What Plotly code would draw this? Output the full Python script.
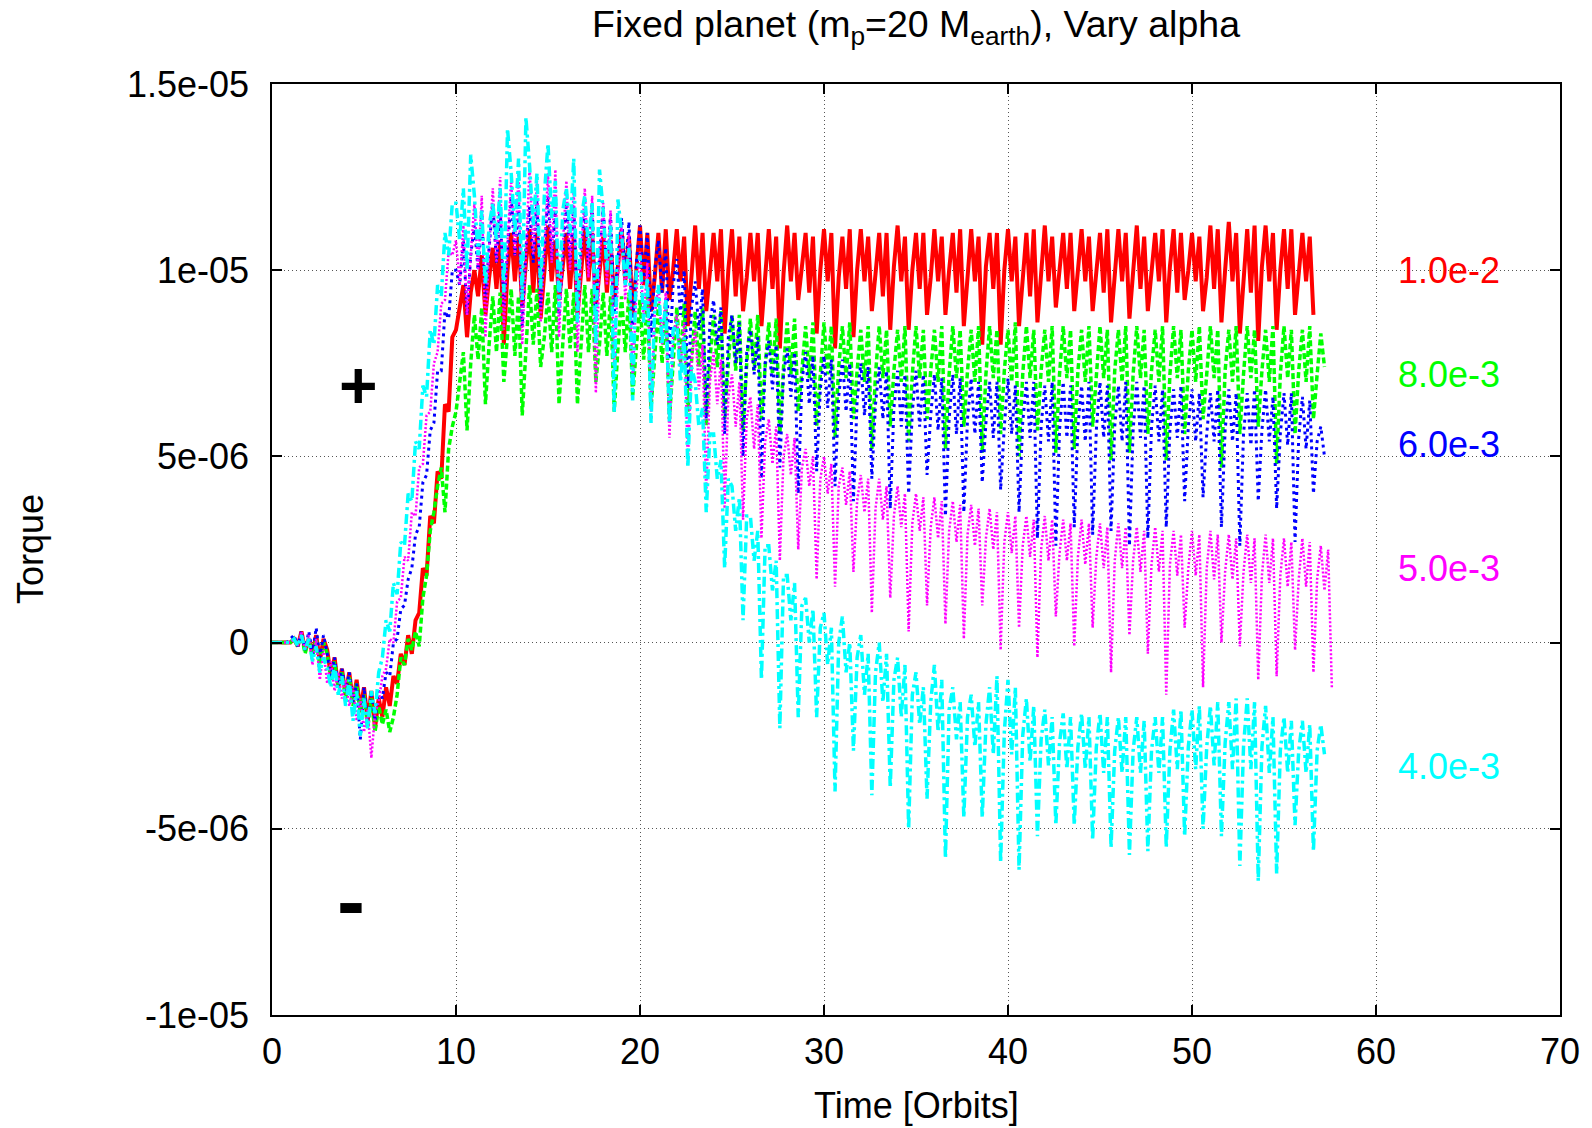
import numpy as np
import plotly.graph_objects as go

# ---------------- data (torque in units of 1e-7, sampled every 0.2 orbit from t=0) ----------------
TIME_STEP = 0.2
UNIT = 1e-7

labels = ["1.0e-2", "8.0e-3", "6.0e-3", "5.0e-3", "4.0e-3"]
colors = ["#ff0000", "#00ff00", "#0000ff", "#ff00ff", "#00ffff"]
label_y = [10.0e-6, 7.2e-6, 5.31e-6, 2.0e-6, -3.32e-6]

alpha_1e2 = [
    0, 0, 0, 0, 0, 0, 1, -1, 3, -2, 1, -3, 2, -5, 1, -2, -9, -4, -12, -7,
    -14, -8, -16, -10, -18, -12, -21, -13, -23, -15, -20, -12, -17, -9, -11,
    -3, -6, 2, -3, 6, 8, 20, 18, 34, 32, 46, 44, 64, 62, 82,
    84, 90, 96, 82, 94,
    100, 93, 104, 88, 98,
    106, 95, 108, 80, 100,
    110, 97, 109, 90, 102,
    111, 94, 110, 87, 100,
    112, 97, 108, 92, 101,
    110, 95, 109, 88, 100,
    111, 97, 110, 90, 99,
    109, 94, 108, 91, 100,
    111, 97, 109, 88, 101,
    112, 96, 110, 89, 98,
    110, 94, 111, 92, 100,
    111, 97, 109, 85, 99,
    112, 95, 110, 89, 101,
    110, 97, 111, 83, 100,
    111, 93, 109, 89, 98,
    110, 97, 110, 85, 100,
    111, 95, 109, 79, 99,
    112, 97, 110, 92, 101,
    110, 94, 109, 83, 100,
    111, 97, 110, 79, 98,
    109, 95, 111, 82, 100,
    111, 97, 109, 89, 99,
    110, 93, 110, 84, 101,
    112, 97, 109, 84, 100,
    110, 95, 110, 88, 98,
    111, 97, 109, 88, 100,
    110, 94, 111, 85, 99,
    111, 97, 109, 80, 101,
    110, 95, 110, 80, 100,
    111, 97, 109, 85, 98,
    110, 93, 111, 86, 100,
    112, 97, 109, 90, 99,
    110, 95, 110, 89, 101,
    111, 97, 109, 89, 100,
    110, 94, 111, 86, 98,
    111, 97, 110, 87, 100,
    112, 95, 109, 89, 99,
    110, 97, 111, 86, 101,
    111, 94, 110, 92, 100,
    110, 97, 109, 89, 98,
    112, 95, 111, 86, 100,
    113, 97, 110, 83, 99,
    111, 94, 112, 81, 101,
    112, 97, 110, 84, 100,
    111, 95, 111, 88, 99,
    110, 97, 109, 88,
]

alpha_8e3 = [
    0, 0, 0, 0, 0, 0, 1, -1, 2, -3, 1, -4, 1, -6, 0, -3, -10, -5, -12, -8,
    -15, -9, -17, -11, -19, -14, -23, -15, -24, -17, -22, -18, -24, -20, -14,
    -4, -6, 1, -2, 3, -1, 12, 18, 30, 35, 42, 47, 35, 52, 58,
    62, 70, 78, 57, 75,
    88, 76, 90, 64, 80,
    93, 78, 94, 70, 82,
    95, 77, 93, 61, 80,
    96, 80, 95, 74, 82,
    94, 78, 96, 64, 80,
    95, 79, 94, 64, 81,
    96, 78, 95, 70, 80,
    94, 77, 93, 62, 79,
    93, 78, 94, 66, 80,
    92, 76, 93, 63, 78,
    91, 75, 92, 60, 77,
    90, 75, 91, 62, 76,
    89, 74, 90, 58, 76,
    88, 74, 89, 60, 75,
    88, 73, 88, 57, 75,
    87, 73, 88, 60, 74,
    86, 72, 87, 56, 74,
    86, 72, 87, 62, 73,
    85, 71, 86, 58, 73,
    86, 72, 85, 55, 74,
    85, 71, 86, 60, 73,
    84, 70, 85, 52, 72,
    85, 71, 84, 58, 73,
    84, 70, 85, 54, 72,
    85, 71, 84, 60, 73,
    84, 70, 85, 52, 72,
    85, 71, 84, 58, 73,
    84, 70, 85, 51, 72,
    85, 71, 84, 56, 73,
    84, 70, 86, 50, 72,
    85, 71, 84, 57, 73,
    84, 70, 85, 51, 72,
    85, 71, 84, 52, 73,
    84, 70, 85, 58, 72,
    85, 71, 84, 49, 73,
    84, 70, 85, 51, 72,
    85, 71, 84, 56, 73,
    84, 70, 85, 49, 72,
    85, 71, 84, 56, 73,
    84, 70, 85, 60, 72,
    85, 71, 84, 47, 73,
    84, 70, 85, 56, 72,
    85, 71, 84, 58, 73,
    84, 70, 85, 48, 72,
    85, 71, 84, 56, 73,
    84, 70, 85, 60, 72,
    83, 74,
]

alpha_6e3 = [
    0, 0, 0, 0, 0, 1, 2, -1, 3, -2, 3, -3, 4, -4, 2, -3, -9, -4, -12, -7,
    -13, -8, -16, -11, -26, -12, -22, -14, -21, -13, -15, -8, -9, 0, 1,
    9, 10, 17, 20, 29, 31, 43, 45, 57, 59, 73, 73, 89, 87, 100,
    100, 96, 108, 88, 104,
    112, 100, 116, 92, 106,
    118, 102, 117, 90, 104,
    120, 104, 118, 85, 106,
    117, 102, 119, 90, 105,
    120, 103, 116, 88, 104,
    118, 102, 117, 90, 106,
    116, 101, 118, 87, 104,
    117, 100, 115, 88, 103,
    114, 99, 113, 85, 102,
    112, 97, 110, 82, 100,
    108, 94, 106, 76, 96,
    103, 88, 100, 68, 90,
    97, 84, 95, 60, 86,
    92, 80, 90, 56, 82,
    88, 75, 86, 50, 78,
    84, 72, 82, 44, 75,
    81, 68, 80, 47, 72,
    79, 66, 78, 40, 70,
    78, 64, 77, 46, 68,
    77, 63, 76, 42, 66,
    76, 62, 75, 38, 65,
    75, 61, 74, 44, 64,
    74, 60, 73, 36, 63,
    73, 58, 72, 40, 62,
    73, 58, 72, 45, 61,
    72, 57, 71, 34, 60,
    72, 56, 71, 35, 60,
    71, 56, 70, 43, 59,
    70, 55, 70, 41, 58,
    71, 56, 69, 35, 59,
    70, 55, 70, 28, 58,
    69, 54, 70, 26, 57,
    70, 55, 69, 31, 58,
    69, 54, 70, 29, 57,
    70, 55, 69, 30, 58,
    69, 54, 70, 26, 57,
    70, 55, 69, 28, 58,
    69, 54, 68, 31, 57,
    68, 55, 69, 38, 58,
    68, 54, 67, 39, 56,
    67, 54, 68, 31, 57,
    68, 54, 67, 26, 56,
    67, 53, 68, 38, 57,
    68, 54, 66, 36, 56,
    67, 53, 67, 27, 55,
    66, 52, 65, 40, 54,
    58, 50,
]

alpha_5e3 = [
    0, 0, 0, 0, 0, 0, 1, -1, 3, -2, 2, -6, 1, -10, -2, -11, -5, -13, -8, -15,
    -10, -17, -12, -21, -15, -24, -18, -31, -19, -16, -9, -7, 1, 0, 11,
    12, 23, 22, 35, 34, 47, 48, 61, 62, 75, 78, 91, 92, 105, 104,
    108, 96, 112, 88, 104,
    118, 100, 120, 82, 106,
    122, 102, 125, 84, 108,
    124, 104, 126, 80, 106,
    128, 104, 124, 86, 108,
    126, 102, 127, 82, 106,
    124, 100, 122, 78, 104,
    122, 98, 120, 67, 102,
    118, 96, 116, 74, 98,
    112, 92, 110, 70, 94,
    105, 86, 102, 62, 88,
    96, 80, 94, 55, 82,
    88, 74, 86, 48, 76,
    84, 68, 80, 40, 70,
    78, 64, 76, 36, 66,
    72, 58, 70, 33, 60,
    66, 52, 64, 28, 54,
    60, 48, 58, 22, 50,
    56, 45, 55, 25, 47,
    52, 42, 50, 17, 44,
    50, 40, 48, 15, 42,
    47, 37, 46, 19, 38,
    45, 35, 44, 8, 36,
    44, 33, 42, 12, 34,
    42, 31, 40, 3, 32,
    40, 30, 39, 10, 31,
    39, 28, 38, 5, 30,
    38, 27, 37, 1, 29,
    37, 26, 36, 10, 28,
    36, 25, 35, -2, 27,
    35, 24, 34, 4, 26,
    34, 23, 33, -4, 25,
    34, 22, 33, 7, 24,
    33, 22, 32, -1, 23,
    33, 21, 32, 4, 23,
    32, 20, 31, -8, 22,
    32, 20, 31, 2, 22,
    31, 19, 30, -3, 21,
    31, 19, 30, -14, 21,
    30, 18, 29, 4, 20,
    30, 18, 29, -12, 20,
    30, 17, 29, 0, 19,
    29, 17, 28, -1, 19,
    29, 16, 28, -10, 18,
    29, 16, 28, -9, 18,
    28, 15, 27, -2, 17,
    28, 15, 27, -8, 17,
    26, 14, 25, -12,
]

alpha_4e3 = [
    0, 0, 0, 0, 0, 0, 1, -1, 2, -2, 1, -5, -1, -8, -4, -7, -12, -6, -14, -9,
    -17, -10, -21, -13, -25, -15, -23, -13, -19, -8, -4, 6, 3, 16, 13,
    27, 26, 40, 38, 54, 52, 69, 66, 84, 80, 96, 93, 110, 104, 118,
    118, 108, 122, 100, 131,
    120, 104, 116, 96, 112,
    118, 108, 122, 94, 138,
    126, 110, 130, 92, 141,
    128, 112, 126, 95, 120,
    134, 114, 124, 90, 116,
    122, 110, 130, 86, 114,
    120, 106, 118, 80, 127,
    116, 100, 112, 62, 119,
    110, 96, 106, 65, 100,
    104, 86, 98, 59, 90,
    96, 80, 92, 59, 84,
    86, 70, 82, 47, 74,
    70, 58, 63, 35, 56,
    56, 44, 49, 20, 44,
    42, 30, 39, 6, 34,
    34, 22, 30, -10, 26,
    26, 14, 22, -23, 18,
    18, 6, 16, -20, 10,
    12, 0, 9, -20, 4,
    8, -6, 4, -40, 0,
    7, -8, 0, -29, -4,
    2, -14, -3, -41, -8,
    0, -16, -3, -39, -10,
    -4, -20, -6, -50, -14,
    -8, -22, -12, -42, -16,
    -6, -24, -10, -58, -18,
    -12, -26, -16, -47, -20,
    -14, -28, -16, -47, -22,
    -12, -30, -9, -59, -24,
    -10, -30, -12, -61, -25,
    -15, -32, -17, -52, -26,
    -18, -33, -20, -49, -27,
    -19, -34, -20, -49, -28,
    -19, -34, -20, -53, -28,
    -19, -35, -20, -55, -29,
    -20, -35, -20, -57, -29,
    -20, -35, -21, -56, -29,
    -20, -35, -20, -55, -29,
    -18, -34, -18, -52, -28,
    -18, -34, -17, -50, -28,
    -17, -33, -16, -52, -27,
    -16, -34, -15, -60, -28,
    -15, -34, -16, -64, -28,
    -17, -35, -20, -62, -29,
    -20, -35, -21, -49, -29,
    -21, -35, -22, -56, -29,
    -22, -30,
]

series = [alpha_1e2, alpha_8e3, alpha_6e3, alpha_5e3, alpha_4e3]
dashes = ["solid", "6px,3px", "3px,4px", "2px,2px", "10px,4px,3px,4px"]
widths = [4, 3.5, 3, 2.5, 3.5]

y_tickvals = [-1e-5, -5e-6, 0, 5e-6, 1e-5, 1.5e-5]
y_ticktext = ["-1e-05", "-5e-06", "0", "5e-06", "1e-05", "1.5e-05"]
x_tickvals = [0, 10, 20, 30, 40, 50, 60, 70]

FONT = "Liberation Sans, Arial, Helvetica, sans-serif"

fig = go.Figure()
for vals, col, dash, w, lab in zip(series, colors, dashes, widths, labels):
    v = np.array(vals, dtype=float) * UNIT
    t = np.arange(len(v)) * TIME_STEP
    fig.add_trace(go.Scatter(x=t, y=v, mode="lines", name=lab,
                             line=dict(color=col, width=w, dash=dash),
                             showlegend=False))

for lab, col, yv in zip(labels, colors, label_y):
    fig.add_annotation(x=61.1, y=yv, xref="x", yref="y", text=lab, showarrow=False,
                       xanchor="left", yanchor="middle",
                       font=dict(family=FONT, size=36, color=col))

fig.add_annotation(x=4.69, y=6.93e-6, xref="x", yref="y", text="<b>+</b>", showarrow=False,
                   xanchor="center", yanchor="middle", font=dict(family=FONT, size=66, color="black"))
fig.add_annotation(x=4.3, y=-6.95e-6, xref="x", yref="y", text="<b>-</b>", showarrow=False,
                   xanchor="center", yanchor="middle", font=dict(family=FONT, size=84, color="black"))

# axis titles
fig.add_annotation(x=0.5, y=(1015 - 1105) / 931, xref="paper", yref="paper", text="Time [Orbits]",
                   showarrow=False, xanchor="center", yanchor="middle",
                   font=dict(family=FONT, size=36, color="black"))
fig.add_annotation(x=(30.5 - 272) / 1288, y=0.5, xref="paper", yref="paper", text="Torque",
                   showarrow=False, xanchor="center", yanchor="middle", textangle=-90,
                   font=dict(family=FONT, size=36, color="black"))

axis_common = dict(showline=True, linecolor="black", linewidth=1.5, mirror="ticks",
                   ticks="inside", ticklen=10, tickwidth=1.5, tickcolor="black",
                   showgrid=True, gridcolor="#555555", gridwidth=1, griddash="1px,3px",
                   zeroline=False, tickfont=dict(family=FONT, size=36, color="black"))

fig.update_xaxes(range=[0, 70], tickvals=x_tickvals, ticklabelstandoff=4, **axis_common)
fig.update_yaxes(range=[-1e-5, 1.5e-5], tickvals=y_tickvals, ticktext=y_ticktext,
                 ticklabelstandoff=14, **axis_common)

fig.update_layout(
    width=1592, height=1128,
    margin=dict(l=272, r=32, t=84, b=113),
    paper_bgcolor="white", plot_bgcolor="white",
    title=dict(text="Fixed planet (m<sub>p</sub>=20 M<sub>earth</sub>), Vary alpha",
               x=(916) / 1592, xanchor="center", yref="container", y=1 - 24 / 1128, yanchor="middle",
               font=dict(family=FONT, size=37.5, color="black")),
    font=dict(family=FONT, color="black"),
)

fig.write_html("out.html")
